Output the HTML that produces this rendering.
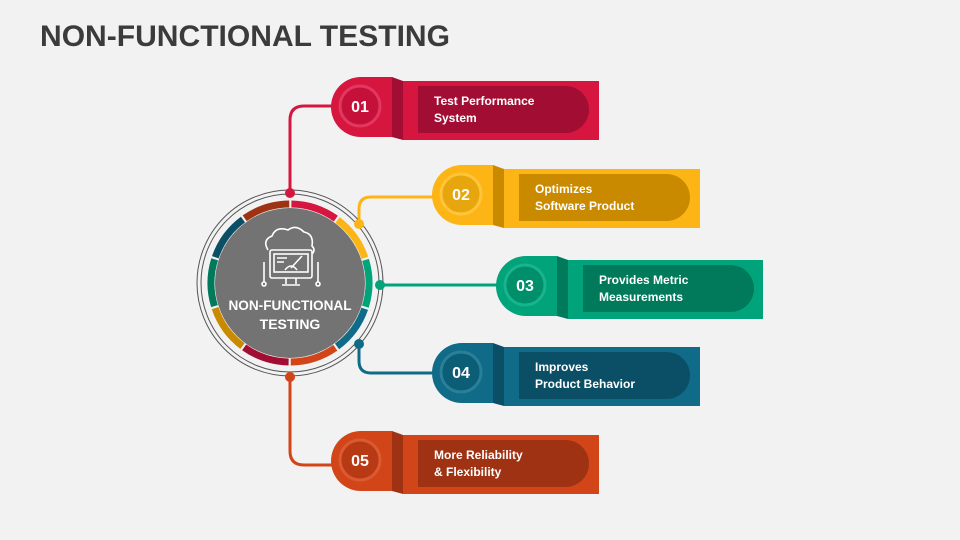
<!DOCTYPE html>
<html><head><meta charset="utf-8"><style>
html,body{margin:0;padding:0;background:#f2f2f2;}
svg{display:block;font-family:"Liberation Sans",Arial,sans-serif;}
</style></head><body>
<svg width="960" height="540" viewBox="0 0 960 540" xmlns="http://www.w3.org/2000/svg">
<rect width="960" height="540" fill="#f2f2f2"/>
<text x="40" y="46" font-size="30" font-weight="bold" fill="#3b3b3b" textLength="410" lengthAdjust="spacingAndGlyphs">NON-FUNCTIONAL TESTING</text>

<g fill="none" stroke-width="3">
<path d="M290,193 V120 Q290,106 304,106 H335" stroke="#d7163f"/>
<path d="M359,224 V209 Q359,197 371,197 H436" stroke="#fdb515"/>
<path d="M380,285 H500" stroke="#00a37a"/>
<path d="M359,344 V361 Q359,373 371,373 H436" stroke="#0f6b87"/>
<path d="M290,377 V451 Q290,465 304,465 H335" stroke="#d24519"/>
</g>

<circle cx="290" cy="283" r="93" fill="none" stroke="#555" stroke-width="1"/>
<circle cx="290" cy="283" r="89" fill="none" stroke="#555" stroke-width="1"/>
<circle cx="290" cy="283" r="86" fill="#f2f2f2"/>
<g fill="none" stroke-width="7">
<circle cx="290" cy="283" r="79" stroke="#d7163f" stroke-dasharray="47.5 455" transform="rotate(-89 290 283)"/>
<circle cx="290" cy="283" r="79" stroke="#fdb515" stroke-dasharray="47.5 455" transform="rotate(-53 290 283)"/>
<circle cx="290" cy="283" r="79" stroke="#00a37a" stroke-dasharray="47.5 455" transform="rotate(-17 290 283)"/>
<circle cx="290" cy="283" r="79" stroke="#0f6b87" stroke-dasharray="47.5 455" transform="rotate(19 290 283)"/>
<circle cx="290" cy="283" r="79" stroke="#d24519" stroke-dasharray="47.5 455" transform="rotate(55 290 283)"/>
<circle cx="290" cy="283" r="79" stroke="#a20e33" stroke-dasharray="47.5 455" transform="rotate(91 290 283)"/>
<circle cx="290" cy="283" r="79" stroke="#c98a00" stroke-dasharray="47.5 455" transform="rotate(127 290 283)"/>
<circle cx="290" cy="283" r="79" stroke="#007a5b" stroke-dasharray="47.5 455" transform="rotate(163 290 283)"/>
<circle cx="290" cy="283" r="79" stroke="#0b4f66" stroke-dasharray="47.5 455" transform="rotate(199 290 283)"/>
<circle cx="290" cy="283" r="79" stroke="#9e3213" stroke-dasharray="47.5 455" transform="rotate(235 290 283)"/>
</g>
<circle cx="290" cy="283" r="75" fill="#737373"/>
<g fill="none" stroke="#fff" stroke-width="1.6">
<path d="M268,250 Q262,240 272,236 Q276,226 288,230 Q296,224 304,232 Q314,234 312,246 Q316,250 312,254"/>
<rect x="270" y="250" width="42" height="28" rx="2"/>
<rect x="274" y="254" width="34" height="18"/>
<path d="M286,278 V284 M296,278 V284 M282,285 H300"/>
<path d="M285,270 Q291,262 297,270 M291,268 L302,256"/>
<path d="M277,258 H287 M277,262 H284"/>
<path d="M264,262 V282 M318,262 V282"/>
<circle cx="264" cy="284" r="2"/><circle cx="318" cy="284" r="2"/>
</g>
<text x="290" y="310" text-anchor="middle" font-size="14" font-weight="bold" fill="#fff" textLength="123" lengthAdjust="spacingAndGlyphs">NON-FUNCTIONAL</text>
<text x="290" y="329" text-anchor="middle" font-size="14" font-weight="bold" fill="#fff">TESTING</text>

<circle cx="290" cy="193" r="5" fill="#d7163f"/>
<circle cx="359" cy="224" r="5" fill="#fdb515"/>
<circle cx="380" cy="285" r="5" fill="#00a37a"/>
<circle cx="359" cy="344" r="5" fill="#0f6b87"/>
<circle cx="290" cy="377" r="5" fill="#d24519"/>

<g transform="translate(331,77)">
<path d="M30,0 H61 V60 H30 A30,30 0 0 1 30,0 Z" fill="#d7163f"/>
<path d="M61,0 L72,4 V63 L61,60 Z" fill="#a20e33"/>
<rect x="72" y="4" width="196" height="59" fill="#d7163f"/>
<path d="M87,9 H234.5 A23.5,23.5 0 0 1 234.5,56 H87 Z" fill="#a20e33"/>
<circle cx="29" cy="29" r="20" fill="#c5103a" stroke="#e2375e" stroke-width="3"/>
<text x="29" y="35" text-anchor="middle" font-size="16" font-weight="bold" fill="#fff">01</text>
<text x="103" y="28" font-size="12" font-weight="bold" fill="#fff">Test Performance</text>
<text x="103" y="45" font-size="12" font-weight="bold" fill="#fff">System</text>
</g>
<g transform="translate(432,165)">
<path d="M30,0 H61 V60 H30 A30,30 0 0 1 30,0 Z" fill="#fdb515"/>
<path d="M61,0 L72,4 V63 L61,60 Z" fill="#c98a00"/>
<rect x="72" y="4" width="196" height="59" fill="#fdb515"/>
<path d="M87,9 H234.5 A23.5,23.5 0 0 1 234.5,56 H87 Z" fill="#c98a00"/>
<circle cx="29" cy="29" r="20" fill="#e8a60e" stroke="#fec53a" stroke-width="3"/>
<text x="29" y="35" text-anchor="middle" font-size="16" font-weight="bold" fill="#fff">02</text>
<text x="103" y="28" font-size="12" font-weight="bold" fill="#fff">Optimizes</text>
<text x="103" y="45" font-size="12" font-weight="bold" fill="#fff">Software Product</text>
</g>
<g transform="translate(496,256)">
<path d="M30,0 H61 V60 H30 A30,30 0 0 1 30,0 Z" fill="#00a37a"/>
<path d="M61,0 L72,4 V63 L61,60 Z" fill="#007a5b"/>
<rect x="72" y="4" width="195" height="59" fill="#00a37a"/>
<path d="M87,9 H234.5 A23.5,23.5 0 0 1 234.5,56 H87 Z" fill="#007a5b"/>
<circle cx="29" cy="29" r="20" fill="#008f6b" stroke="#19b38c" stroke-width="3"/>
<text x="29" y="35" text-anchor="middle" font-size="16" font-weight="bold" fill="#fff">03</text>
<text x="103" y="28" font-size="12" font-weight="bold" fill="#fff">Provides Metric</text>
<text x="103" y="45" font-size="12" font-weight="bold" fill="#fff">Measurements</text>
</g>
<g transform="translate(432,343)">
<path d="M30,0 H61 V60 H30 A30,30 0 0 1 30,0 Z" fill="#0f6b87"/>
<path d="M61,0 L72,4 V63 L61,60 Z" fill="#0b4f66"/>
<rect x="72" y="4" width="196" height="59" fill="#0f6b87"/>
<path d="M87,9 H234.5 A23.5,23.5 0 0 1 234.5,56 H87 Z" fill="#0b4f66"/>
<circle cx="29" cy="29" r="20" fill="#0c5d76" stroke="#2a7f99" stroke-width="3"/>
<text x="29" y="35" text-anchor="middle" font-size="16" font-weight="bold" fill="#fff">04</text>
<text x="103" y="28" font-size="12" font-weight="bold" fill="#fff">Improves</text>
<text x="103" y="45" font-size="12" font-weight="bold" fill="#fff">Product Behavior</text>
</g>
<g transform="translate(331,431)">
<path d="M30,0 H61 V60 H30 A30,30 0 0 1 30,0 Z" fill="#d24519"/>
<path d="M61,0 L72,4 V63 L61,60 Z" fill="#9e3213"/>
<rect x="72" y="4" width="196" height="59" fill="#d24519"/>
<path d="M87,9 H234.5 A23.5,23.5 0 0 1 234.5,56 H87 Z" fill="#9e3213"/>
<circle cx="29" cy="29" r="20" fill="#b83a14" stroke="#dc5a31" stroke-width="3"/>
<text x="29" y="35" text-anchor="middle" font-size="16" font-weight="bold" fill="#fff">05</text>
<text x="103" y="28" font-size="12" font-weight="bold" fill="#fff">More Reliability</text>
<text x="103" y="45" font-size="12" font-weight="bold" fill="#fff">&amp; Flexibility</text>
</g>
</svg>
</body></html>
